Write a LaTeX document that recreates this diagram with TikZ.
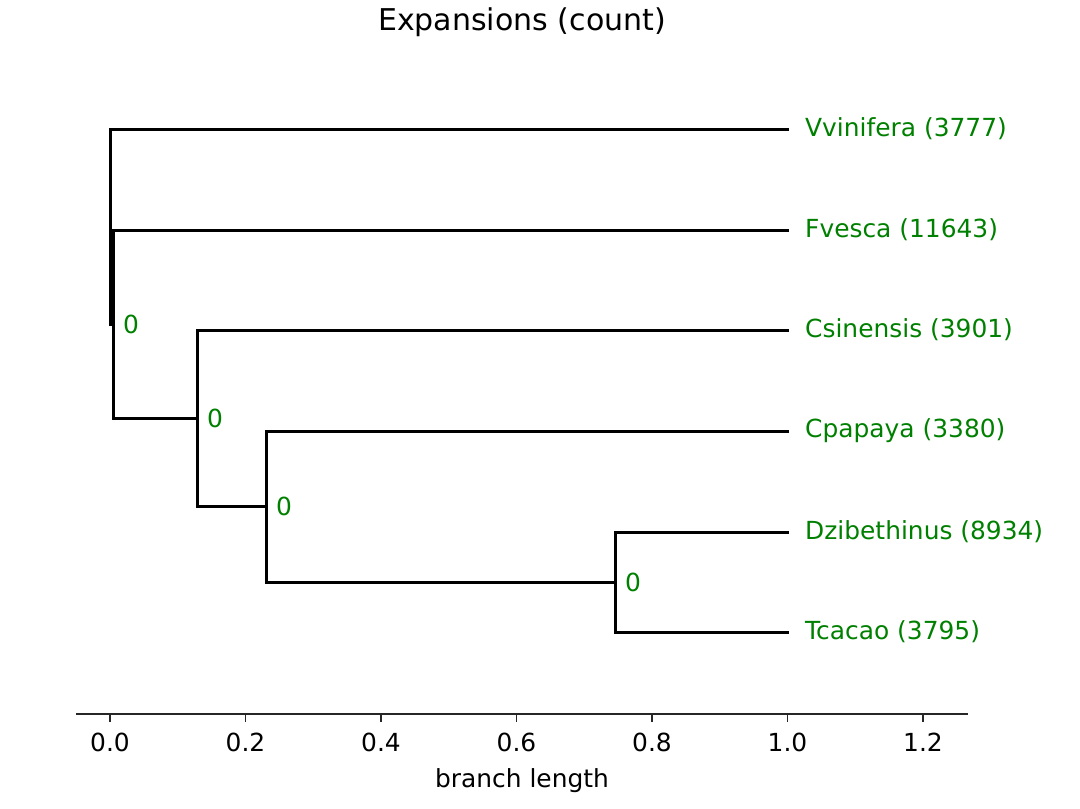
\documentclass[tikz,border=0pt]{standalone}
\usepackage{fontspec}
\setmainfont{DejaVu Sans}
\definecolor{mplgreen}{HTML}{008000}
\begin{document}
\begin{tikzpicture}[x=1pt,y=-1pt,
  branch/.style={line width=3pt, black, line join=miter},
  axisline/.style={line width=2pt, black!85},
  tickmark/.style={line width=1.6pt, black!85},
  leaf/.style={anchor=west, inner sep=0pt, text=mplgreen, font=\fontsize{24.9}{28}\selectfont},
  support/.style={anchor=west, inner sep=0pt, text=mplgreen, font=\fontsize{24.9}{28}\selectfont},
  ticklab/.style={anchor=north, inner sep=0pt, font=\fontsize{24.9}{28}\selectfont},
  titletext/.style={inner sep=0pt, font=\fontsize{30}{34}\selectfont}
]
\useasboundingbox (0,0) rectangle (1080,809);
% internal nodes
\coordinate (root) at (110,226.5);
\coordinate (nA) at (113,324);
\coordinate (nB) at (197,418);
\coordinate (nC) at (266,506.5);
\coordinate (nD) at (615,582);
% leaf tips
\coordinate (tV) at (789,129);
\coordinate (tF) at (789,230);
\coordinate (tCs) at (789,330);
\coordinate (tCp) at (789,431);
\coordinate (tDz) at (789,532);
\coordinate (tT) at (789,632);
% leaf labels
\node[leaf] (lV) at ([xshift=16pt]tV) {Vvinifera (3777)};
\node[leaf] (lF) at ([xshift=16pt]tF) {Fvesca (11643)};
\node[leaf] (lCs) at ([xshift=16pt]tCs) {Csinensis (3901)};
\node[leaf] (lCp) at ([xshift=16pt]tCp) {Cpapaya (3380)};
\node[leaf] (lDz) at ([xshift=16pt]tDz) {Dzibethinus (8934)};
\node[leaf] (lT) at ([xshift=16pt]tT) {Tcacao (3795)};
% branches
\draw[branch] (tV) -| (root) |- (nA);
\draw[branch] (tF) -| (nA) |- (nB);
\draw[branch] (tCs) -| (nB) |- (nC);
\draw[branch] (tCp) -| (nC) |- (nD);
\draw[branch] (tDz) -| (nD) |- (tT);
% support labels
\node[support] (sA) at ([xshift=10pt]nA) {0};
\node[support] (sB) at ([xshift=10pt]nB) {0};
\node[support] (sC) at ([xshift=10pt]nC) {0};
\node[support] (sD) at ([xshift=10pt]nD) {0};
% axis
\coordinate (axL) at (76,714);
\coordinate (axR) at (968,714);
\draw[axisline] (axL) -- (axR);
\foreach \v/\lab [count=\i] in {0/0.0,0.2/0.2,0.4/0.4,0.6/0.6,0.8/0.8,1.0/1.0,1.2/1.2} {
  \coordinate (tk\i) at ({110+677.5*\v},714);
  \draw[tickmark] (tk\i) -- ++(0,8);
  \node[ticklab] (tl\i) at ([yshift=-19pt]tk\i) {\lab};
}
\node[titletext] (title) at (522,22) {Expansions (count)};
\node[ticklab] (xlabel) at (522,768) {branch length};
\end{tikzpicture}
\end{document}
